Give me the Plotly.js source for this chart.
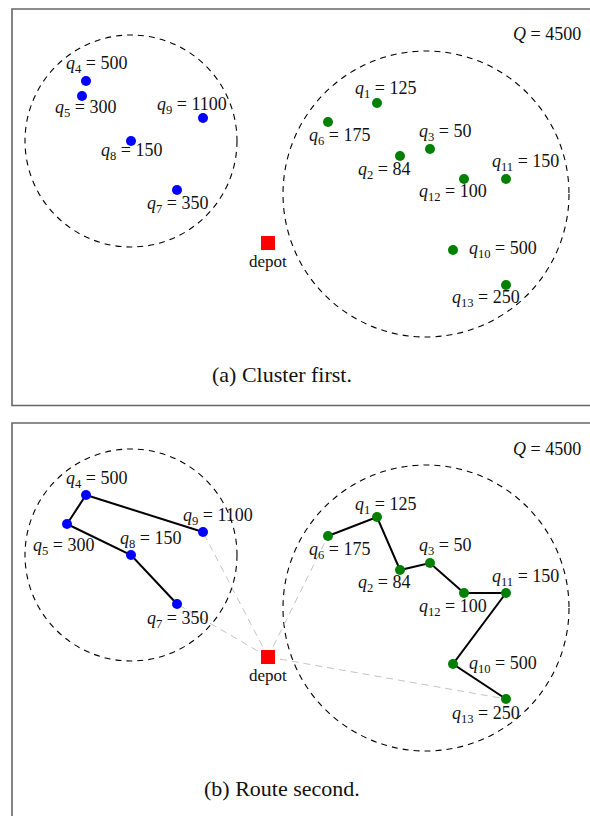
<!DOCTYPE html>
<html>
<head>
<meta charset="utf-8">
<script src="https://cdn.plot.ly/plotly-3.0.1.min.js"></script>
<style>html,body{margin:0;padding:0;background:#fff;}#chart{width:590px;height:816px;}</style>
</head>
<body>
<div id="chart"></div>
<script>
// ---- data: customer locations (depot at origin), demands, clusters, routes ----
const customerIds = [1, 2, 3, 4, 5, 6, 7, 8, 9, 10, 11, 12, 13];
const demands     = [125, 84, 50, 500, 300, 175, 350, 150, 1100, 500, 150, 100, 250];
// panel (a) positions
const custXa = [109, 132, 162, -182, -186, 60, -91, -137, -65, 185, 238, 196, 238];
const custYa = [140, 87, 94, 162, 147, 121, 53, 102, 125, -7, 64, 64, -42];
// panel (b) positions
const custXb = [109, 132, 162, -182, -201, 60, -91, -137, -65, 185, 238, 196, 238];
const custYb = [140, 87, 94, 162, 133, 121, 53, 102, 125, -7, 64, 64, -42];
const clusterOf = [2, 2, 2, 1, 1, 2, 1, 1, 1, 2, 2, 2, 2];
const depotX = [0];
const depotY = [0];
const capacity = 4500;
// cluster circles: centre x, centre y, radius
const clusterCx = [-137, 158];
const clusterCy = [102, 49];
const clusterR  = [106, 143];
// routes (customer ids, visiting order)
const route1 = [9, 4, 5, 8, 7];
const route2 = [6, 1, 2, 3, 12, 11, 10, 13];
const captions = ["(a) Cluster first.", "(b) Route second."];

// ---- styling / layout (pixel offsets of labels: [xshift, yshift, anchor]) ----
const labelOffA = {1:[8,13],2:[-16,-15],3:[15,16],4:[10,16],5:[3,-13],6:[11,-15],7:[0,-15],8:[0,-11],9:[-11,12],10:[14,0,'left'],11:[19,16],12:[-11,-14],13:[-20,-14]};
const labelOffB = {1:[8,12],2:[-16,-13],3:[15,17],4:[10,16],5:[-4,-22],6:[11,-14],7:[0,-15],8:[19,16],9:[15,16],10:[14,0,'left'],11:[19,16],12:[-11,-14],13:[-20,-15]};
const FONT = 'Liberation Serif, Times New Roman, serif';
const clusterColor = {1: '#0000ff', 2: '#008000'};

const traces = [];
const annotations = [];
const shapes = [];

function idx(id){ return customerIds.indexOf(id); }

function addPanel(xs, ys, xa, ya, offs, withRoutes){
  if (withRoutes){
    [route1, route2].forEach(r => {
      [r[0], r[r.length-1]].forEach(id => {
        traces.push({x:[depotX[0], xs[idx(id)]], y:[depotY[0], ys[idx(id)]], xaxis:xa, yaxis:ya,
          mode:'lines', line:{color:'#c4c4c4', width:1, dash:'7px,5px'}, hoverinfo:'skip', showlegend:false});
      });
      traces.push({x:r.map(id=>xs[idx(id)]), y:r.map(id=>ys[idx(id)]), xaxis:xa, yaxis:ya,
        mode:'lines', line:{color:'#000', width:2}, hoverinfo:'skip', showlegend:false});
    });
  }
  [1,2].forEach(c => {
    const ids = customerIds.filter((id,i)=>clusterOf[i]===c);
    traces.push({x:ids.map(id=>xs[idx(id)]), y:ids.map(id=>ys[idx(id)]), xaxis:xa, yaxis:ya,
      mode:'markers', marker:{color:clusterColor[c], size:10, line:{width:0}}, hoverinfo:'skip', showlegend:false});
  });
  traces.push({x:depotX, y:depotY, xaxis:xa, yaxis:ya, mode:'markers',
    marker:{color:'#ff0000', symbol:'square', size:14, line:{width:0}}, hoverinfo:'skip', showlegend:false});
  for (let k=0;k<clusterCx.length;k++){
    shapes.push({type:'circle', xref:xa, yref:ya,
      x0:clusterCx[k]-clusterR[k], x1:clusterCx[k]+clusterR[k],
      y0:clusterCy[k]-clusterR[k], y1:clusterCy[k]+clusterR[k],
      line:{color:'#000', width:1.1, dash:'6px,5px'}, layer:'below'});
  }
  customerIds.forEach((id,i) => {
    const o = offs[id];
    annotations.push({x:xs[i], y:ys[i], xref:xa, yref:ya, showarrow:false,
      text:'<i>q</i><sub>'+id+'</sub> = '+demands[i], xshift:o[0], yshift:o[1],
      xanchor:o[2]||'center', yanchor:'middle', font:{family:FONT, size:18, color:'#111'}});
  });
  annotations.push({x:depotX[0], y:depotY[0], xref:xa, yref:ya, showarrow:false, text:'depot',
    yshift:-18, font:{family:FONT, size:17, color:'#111'}});
}

addPanel(custXa, custYa, 'x', 'y', labelOffA, false);
addPanel(custXb, custYb, 'x2', 'y2', labelOffB, true);

const W = 590, H = 816;
[[34.5, 375], [448.5, 788]].forEach((p, k) => {
  annotations.push({x:547/W, y:1-p[0]/H, xref:'paper', yref:'paper', showarrow:false,
    text:'<i>Q</i> = '+capacity, font:{family:FONT, size:18, color:'#111'}, xanchor:'center', yanchor:'middle'});
  annotations.push({x:282/W, y:1-p[1]/H, xref:'paper', yref:'paper', showarrow:false,
    text:captions[k], font:{family:FONT, size:22, color:'#111'}, xanchor:'center', yanchor:'middle'});
});
const frameColor = '#666';
shapes.push({type:'path', xref:'paper', yref:'paper', layer:'above',
  path:'M 1.02 '+(1-9/H)+' L '+(12/W)+' '+(1-9/H)+' L '+(12/W)+' '+(1-405.5/H)+' L 1.02 '+(1-405.5/H),
  line:{color:frameColor, width:1.6}});
shapes.push({type:'path', xref:'paper', yref:'paper', layer:'above',
  path:'M 1.02 '+(1-423/H)+' L '+(12/W)+' '+(1-423/H)+' L '+(12/W)+' -0.02',
  line:{color:frameColor, width:1.6}});

const ax = {showgrid:false, zeroline:false, showticklabels:false, ticks:'', showline:false, fixedrange:true};
const layout = {
  width:W, height:H, margin:{l:0,r:0,t:0,b:0}, paper_bgcolor:'#fff', plot_bgcolor:'rgba(0,0,0,0)',
  showlegend:false,
  xaxis:Object.assign({}, ax, {range:[-268, 322], domain:[0,1], anchor:'y'}),
  yaxis:Object.assign({}, ax, {range:[-162, 234], domain:[1-405/H, 1-9/H], anchor:'x'}),
  xaxis2:Object.assign({}, ax, {range:[-268, 322], domain:[0,1], anchor:'y2'}),
  yaxis2:Object.assign({}, ax, {range:[-159, 234], domain:[0, 1-423/H], anchor:'x2'}),
  shapes:shapes, annotations:annotations
};
Plotly.newPlot('chart', traces, layout, {staticPlot:true, displayModeBar:false});
</script>
</body>
</html>
